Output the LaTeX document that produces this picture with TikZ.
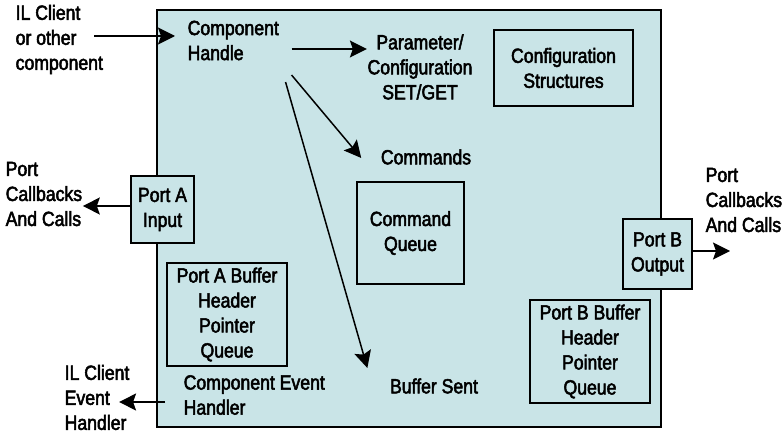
\documentclass[tikz,border=0pt]{standalone}
\usepackage{fontspec}
\setmainfont{Liberation Sans}[FakeStretch=0.86,FakeBold=2.5]
\usetikzlibrary{arrows.meta}
\definecolor{compblue}{RGB}{201,228,231}

\begin{document}
\begin{tikzpicture}[x=1pt,y=-1pt,line width=1.4pt,
  box/.style={draw,fill=compblue,align=center,inner sep=0pt,font=\fontsize{20.5}{25}\selectfont},
  lbl/.style={inner sep=0pt,align=left,font=\fontsize{20.5}{25}\selectfont},
  arr/.style={-{Stealth[length=17pt,width=17pt,inset=3pt]},line width=1.5pt}]
  \useasboundingbox (0,0) rectangle (784,433);
  % component body with its port boxes
  \node[box,line width=2.4pt,minimum width=504pt,minimum height=417pt] (comp) at (409,218.5) {};
  \node[box,minimum width=63pt,minimum height=67pt] (portA) at (162.5,209.5) {Port A\\Input};
  \node[box,minimum width=69pt,minimum height=70pt] (portB) at (657.5,254) {Port B\\Output};
  % inner boxes
  \node[box,minimum width=139pt,minimum height=76pt] (cfg) at (563.5,68) {Configuration\\Structures};
  \node[box,minimum width=107pt,minimum height=102pt] (cmdq) at (410.5,233) {Command\\Queue};
  \node[box,minimum width=120pt,minimum height=103pt] (bufA) at (227,314.5) {Port A Buffer\\Header\\Pointer\\Queue};
  \node[box,minimum width=120pt,minimum height=103pt] (bufB) at (590,351.5) {Port B Buffer\\Header\\Pointer\\Queue};
  % plain labels
  \node[lbl,anchor=west] (client) at (15,39.5) {IL Client\\or other\\component};
  \node[lbl,anchor=west] (handle) at (187,40.5) {Component\\Handle};
  \node[lbl,align=center] (param) at (420,67) {Parameter/\\Configuration\\SET/GET};
  \node[lbl] (cmds) at (426,157) {Commands};
  \node[lbl] (bufsent) at (434,386) {Buffer Sent};
  \node[lbl,anchor=west] (evh) at (183,395) {Component Event\\Handler};
  \node[lbl,anchor=west] (ilev) at (64,397.5) {IL Client\\Event\\Handler};
  \node[lbl,anchor=west] (cbA) at (5,194) {Port\\Callbacks\\And Calls};
  \node[lbl,anchor=west] (cbB) at (705,200) {Port\\Callbacks\\And Calls};
  \coordinate (clientout) at (94,36);
  \coordinate (cbBtip) at (730,251);
  % connectors
  \draw[arr] (clientout) -- ([xshift=-12pt,yshift=4.5pt]handle.west);
  \draw[arr] ([xshift=12pt,yshift=-8.5pt]handle.east) -- ([yshift=18pt]param.west);
  \draw[arr] ([xshift=12pt,yshift=-34.5pt]handle.east) -- ([xshift=-19pt,yshift=-1pt]cmds.west);
  \draw[arr] ([xshift=6pt,yshift=-41.5pt]handle.east) -- ([xshift=-22pt,yshift=18pt]bufsent.west);
  \draw[arr] ([yshift=3.5pt]portA.west) -- ([yshift=3.5pt]portA.west -| cbA.east);
  \draw[arr] ([yshift=3pt]portB.east) -- (cbBtip);
  \draw[arr] ([xshift=-18pt,yshift=-7pt]evh.west) -- ([xshift=-11pt,yshift=-4.5pt]ilev.east);
\end{tikzpicture}
\end{document}
